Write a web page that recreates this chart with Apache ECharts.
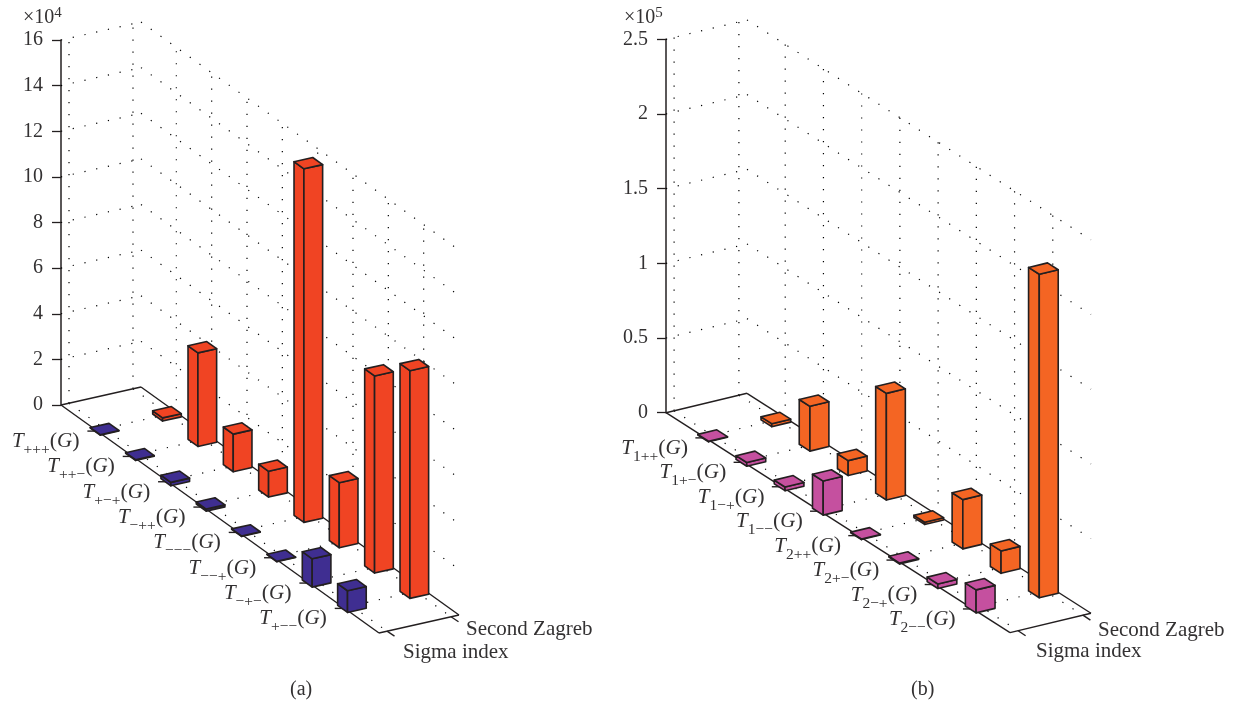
<!DOCTYPE html>
<html><head><meta charset="utf-8">
<style>html,body{margin:0;padding:0;background:#fff}#c{width:1236px;height:707px}</style>
<script src="https://cdn.jsdelivr.net/npm/echarts@6/dist/echarts.min.js"></script>
</head><body><div id="c"></div>
<script>
// ---- data (units: x10^4 in panel a, x10^5 in panel b)
const catSubA = ['+++','++−','+−+','−++','−−−','−−+','−+−','+−−'];
const catSubB = ['1++','1+−','1−+','1−−','2++','2+−','2−+','2−−'];
const sigmaA  = [0.02,0.03,0.15,0.09,0.02,0.02,1.24,0.95];
const zagrebA = [0.14,4.10,1.65,1.13,15.5,2.85,8.64,9.98];
const sigmaB  = [0.004,0.025,0.025,0.228,0.004,0.006,0.03,0.154];
const zagrebB = [0.02,0.30,0.10,0.714,0.015,0.33,0.15,2.166];
const seriesNames = ['Sigma index','Second Zagreb'];

const INK = '#231f20', TXT = '#333132', SERIF = '"Liberation Serif","Times New Roman",serif';
const panels = [
  {sub:catSubA, sigma:sigmaA, zagreb:zagrebA, max:16, step:2, exp:'4', cap:'(a)',
   left:61, top:40, w:318, h:365, Cy:25.33, Sx:80, Sy:-18, cSigma:'#3f2e91', cZagreb:'#f04423',
   labDx:-85.5, labDy:13, expX:23, capX:301,
   nameZ:[466,628], nameS:[403,651]},
  {sub:catSubB, sigma:sigmaB, zagreb:zagrebB, max:2.5, step:0.5, exp:'5', cap:'(b)',
   left:666, top:39.3, w:344, h:373.4, Cy:24.44, Sx:81, Sy:-19.4, cSigma:'#c5509f', cZagreb:'#f46523',
   labDx:-84, labDy:13, expX:624, capX:922,
   nameZ:[1098,629], nameS:[1036,650]}
];
const TN = 9, S_SIGMA = 0.09, S_ZAG = 0.87, DT = 0.14, DS = 0.117;
const poly = (pts, fill, z2) => ({type:'polygon', z2, shape:{points:pts},
  style:{fill, stroke:INK, lineWidth:1.6, lineJoin:'round'}});
const line = (a, b, z2, dotted, w) => ({type:'line', z2, silent:true,
  shape:{x1:a[0],y1:a[1],x2:b[0],y2:b[1]},
  style: dotted ? {stroke:'#000', lineWidth:1.2, lineDash:[1.2,10.8]} : {stroke:INK, lineWidth:w||1.4}});

function projector(api, p){
  return (t,s,v)=>{ const b = api.coord([t,v]);
    return [b[0]+s*p.Sx, b[1]+t*p.Cy+s*p.Sy]; };
}
function barItem(p, s0, color, order){
  return (params, api)=>{
    const P = projector(api,p), i = api.value(0), v = api.value(1), t = i+1.03, s = s0;
    const tl=t-DT, tr=t+DT, sl=s-DS, sr=s+DS;
    return {type:'group', children:[
      poly([P(tl,sl,0),P(tr,sl,0),P(tr,sl,v),P(tl,sl,v)], color, 10+i*2+order),
      poly([P(tr,sl,0),P(tr,sr,0),P(tr,sr,v),P(tr,sl,v)], color, 10+i*2+order),
      poly([P(tl,sl,v),P(tr,sl,v),P(tr,sr,v),P(tl,sr,v)], color, 10+i*2+order)
    ]};
  };
}
function frameItem(p){
  return (params, api)=>{
    const P = projector(api,p), ch = [];
    const ticks=[]; for(let v=0;v<=p.max+1e-9;v+=p.step) ticks.push(v);
    ticks.forEach(v=>{
      if(v>0){ ch.push(line(P(0,0,v),P(0,1,v),1,true)); ch.push(line(P(0,1,v),P(TN,1,v),1,true)); }
    });
    [0.1,0.9].forEach(s=>{
      ch.push(line(P(0,s,0),P(0,s,p.max),1,true));
      ch.push(line(P(0,s,0),P(TN,s,0),1,true));
    });
    for(let k=1;k<=8;k++){
      ch.push(line(P(k,1,0),P(k,1,p.max),1,true));
      ch.push(line(P(k,0,0),P(k,1,0),1,true));
    }
    ch.push(line(P(0,0,0),P(0,1,0),2));
    ch.push(line(P(0,1,0),P(TN,1,0),2));
    ch.push(line(P(0,0,0),P(TN,0,0),2));
    ch.push(line(P(TN,0,0),P(TN,1,0),2));
    // series ticks on the front edge
    [0.1,0.9].forEach(s=>{ const a=P(TN,s,0); ch.push(line(a,[a[0]+7.5,a[1]+5],2)); });
    // category ticks
    for(let k=0;k<8;k++){ const a=P(k+1.03,0,0); ch.push(line([a[0]-10,a[1]],a,2)); }
    return {type:'group', children:ch};
  };
}
function labelItem(p){
  return (params, api)=>{
    const P = projector(api,p), i = api.value(0), a = P(i+1.03,0,0);
    const lift=[0,0,6,0];
    return {type:'text', z2:5, x:a[0]+p.labDx, y:a[1]+p.labDy, style:{
      text:'{t|T}{s|'+p.sub[i]+'}{n|(}{t|G}{n|)}',
      textAlign:'left', textVerticalAlign:'middle',
      fill:TXT, rich:{
        t:{fontFamily:SERIF,fontStyle:'italic',fontSize:21,fill:TXT,verticalAlign:'bottom',padding:lift},
        n:{fontFamily:SERIF,fontSize:22,fill:TXT,verticalAlign:'bottom',padding:lift},
        s:{fontFamily:SERIF,fontSize:15.5,fill:TXT,verticalAlign:'bottom'}
      }}};
  };
}
const grid=[], xAxis=[], yAxis=[], series=[], graphic=[];
panels.forEach((p,n)=>{
  grid.push({left:p.left, top:p.top, width:p.w, height:p.h, containLabel:false});
  xAxis.push({gridIndex:n, type:'value', min:0, max:TN, show:false});
  yAxis.push({gridIndex:n, type:'value', min:0, max:p.max, interval:p.step, splitLine:{show:false},
    axisLine:{show:true,lineStyle:{color:INK,width:1.5}},
    axisTick:{show:true,length:9,lineStyle:{color:INK,width:1.3}},
    axisLabel:{show:true,fontFamily:SERIF,fontSize:20,color:TXT,margin:18,showMinLabel:true,showMaxLabel:true,hideOverlap:false}});
  const base={type:'custom', coordinateSystem:'cartesian2d', xAxisIndex:n, yAxisIndex:n, clip:false, silent:true, animation:false};
  series.push(Object.assign({},base,{name:'frame'+n, renderItem:frameItem(p), data:[[0,0]], encode:{x:0,y:1}}));
  series.push(Object.assign({},base,{name:'labels'+n, renderItem:labelItem(p), data:p.sub.map((c,i)=>[i,0]), encode:{x:0,y:1}}));
  series.push(Object.assign({},base,{name:seriesNames[1], renderItem:barItem(p,S_ZAG,p.cZagreb,0), data:p.zagreb.map((v,i)=>[i,v]), encode:{x:0,y:1}}));
  series.push(Object.assign({},base,{name:seriesNames[0], renderItem:barItem(p,S_SIGMA,p.cSigma,1), data:p.sigma.map((v,i)=>[i,v]), encode:{x:0,y:1}}));
  const txt=(x,y,o)=>({type:'text',left:x,top:y,silent:true,style:Object.assign({font:'21px '+SERIF,fill:TXT},o)});
  graphic.push(txt(p.nameZ[0],p.nameZ[1]-9,{text:seriesNames[1]}));
  graphic.push(txt(p.nameS[0],p.nameS[1]-9,{text:seriesNames[0]}));
  graphic.push(txt(p.capX-11,680,{text:p.cap,font:'20px '+SERIF}));
  graphic.push({type:'text',left:p.expX,top:6,silent:true,style:{text:'×10{e|'+p.exp+'}',font:'20px '+SERIF,fill:TXT,
     rich:{e:{font:'15px '+SERIF,fill:TXT,verticalAlign:'top',padding:[0,0,8,0]}}}});
});
const chart = echarts.init(document.getElementById('c'),null,{renderer:'canvas'});
chart.setOption({animation:false, backgroundColor:'#fff', tooltip:{show:false}, grid, xAxis, yAxis, series, graphic});
</script></body></html>
